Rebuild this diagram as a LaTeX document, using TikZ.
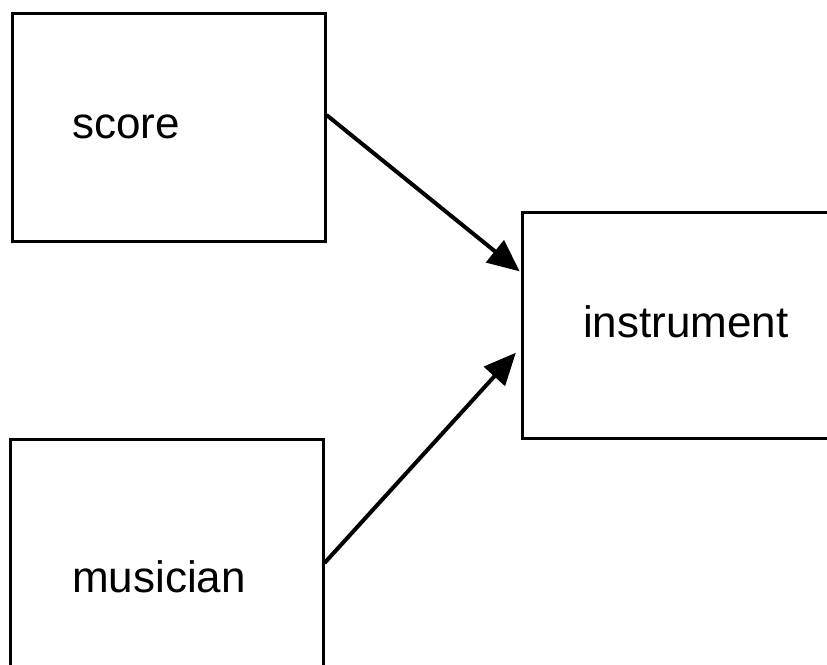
\documentclass[tikz,border=0pt]{standalone}
\usepackage{fontspec}
\setmainfont{Liberation Sans}
\usetikzlibrary{arrows.meta}
\begin{document}
\begin{tikzpicture}[x=1pt,y=-1pt,
  boxnode/.style={draw=black,line width=3pt,rectangle,inner sep=0pt},
  label/.style={font=\fontsize{44}{50}\selectfont,anchor=base west,inner sep=0pt},
  conn/.style={line width=4pt,-{Triangle[length=32pt,width=28pt]},shorten >=1pt}]
\clip (0,0) rectangle (827,664);
\fill[white] (0,0) rectangle (827,664);
\node[boxnode,minimum width=313pt,minimum height=228pt] (score) at (168.5,127) {};
\node[boxnode,minimum width=380pt,minimum height=226pt] (instr) at (712,325) {};
\node[boxnode,minimum width=313pt,minimum height=262pt] (musician) at (166.5,570) {};
\node[label] (tscore) at (72,138) {score};
\node[label] (tinstr) at (583,337) {instrument};
\node[label] (tmus) at (72,592) {musician};
\draw[conn] ([yshift=12pt]score.east) -- ([yshift=53pt]instr.west);
\draw[conn] ([yshift=7pt]musician.east) -- ([yshift=-27pt,xshift=-4pt]instr.west);
\end{tikzpicture}
\end{document}
